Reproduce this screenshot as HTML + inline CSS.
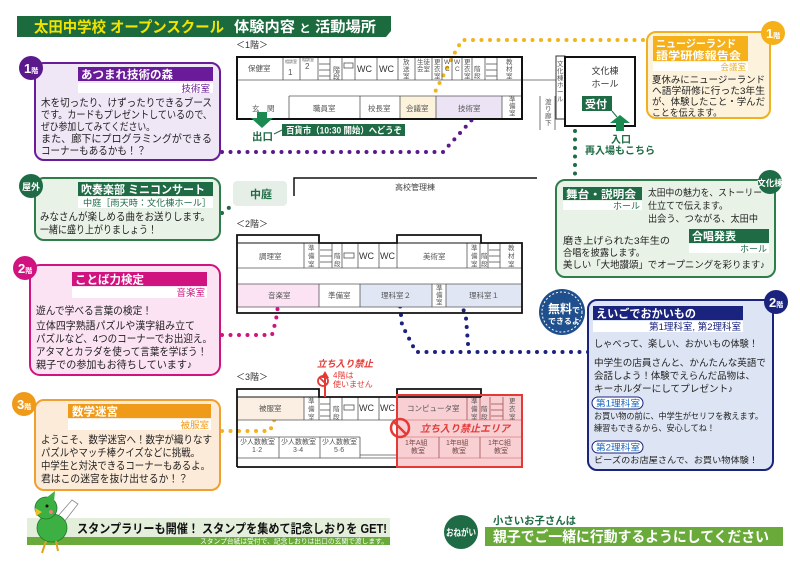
<!DOCTYPE html>
<html><head><meta charset="utf-8">
<style>
html,body{margin:0;padding:0;background:#fff;}
svg{display:block;}
text{font-family:"Liberation Sans","Noto Sans CJK JP",sans-serif;}
.b{font-weight:bold;}
.rm{font-size:7.5px;fill:#555;}
.bd{font-size:10.5px;fill:#222;}
.sm{font-size:9.5px;fill:#222;}
.wc{font-size:9px;fill:#333;}
</style></head>
<body>
<svg width="800" height="566" viewBox="0 0 800 566" xmlns="http://www.w3.org/2000/svg">
<rect width="800" height="566" fill="#fff"/>

<!-- Title -->
<path d="M17,16 L391,16 L391,31 L386,37 L17,37 Z" fill="#1b6b3e"/>
<text x="34" y="32" font-size="15" class="b" fill="#f2e400" textLength="190" lengthAdjust="spacingAndGlyphs">太田中学校 オープンスクール</text>
<text x="234" y="32" font-size="14.5" class="b" fill="#fff" textLength="142" lengthAdjust="spacingAndGlyphs">体験内容 <tspan font-size="11">と</tspan> 活動場所</text>

<!-- Dotted connectors -->
<g fill="none" stroke-linecap="round" stroke-width="4" stroke-dasharray="0 8.5">
<polyline points="222,152 443,152 478,113" stroke="#5b1a8c"/>
<polyline points="643,40 462,40 453,56 432,98" stroke="#f0b41c"/>
<polyline points="575,80 575,180" stroke="#1e6b45"/>
<polyline points="222,213 242,198" stroke="#1e6b45"/>
<polyline points="222,335 272,335 276,320 279,298" stroke="#d0137f"/>
<polyline points="588,352 416,352 402,325 400,305" stroke="#1a237e"/>
<polyline points="468,344 466,318 461,302" stroke="#1a237e"/>
<polyline points="222,431 270,431 275,418 275,408" stroke="#f0b41c"/>
</g>

<!-- Box 1: purple -->
<rect x="35" y="63" width="185" height="97" rx="9" fill="#efe6f6" stroke="#6a1b9a" stroke-width="2"/>
<rect x="78" y="67" width="135" height="14" fill="#6a1b9a"/>
<text x="81" y="78.5" font-size="11.5" class="b" fill="#fff" textLength="92" lengthAdjust="spacingAndGlyphs">あつまれ技術の森</text>
<rect x="78" y="83" width="135" height="10" fill="#fff"/>
<text x="210" y="92" font-size="9.5" fill="#6a1b9a" text-anchor="end">技術室</text>
<text class="bd" x="41" y="106" textLength="171" lengthAdjust="spacingAndGlyphs">木を切ったり、けずったりできるブース</text>
<text class="bd" x="41" y="118" textLength="171" lengthAdjust="spacingAndGlyphs">です。カードもプレゼントしているので、</text>
<text class="bd" x="41" y="130" textLength="114" lengthAdjust="spacingAndGlyphs">ぜひ参加してみてください。</text>
<text class="bd" x="41" y="142" textLength="171" lengthAdjust="spacingAndGlyphs">また、廊下にプログラミングができる</text>
<text class="bd" x="41" y="154" textLength="105" lengthAdjust="spacingAndGlyphs">コーナーもあるかも！？</text>
<circle cx="31" cy="68" r="12" fill="#5b1a8c"/>
<text x="24" y="73" font-size="13" class="b" fill="#fff">1<tspan font-size="7">階</tspan></text>

<!-- Box 屋外 -->
<rect x="35" y="178" width="185" height="62" rx="9" fill="#e9f2e6" stroke="#2e7d4a" stroke-width="2"/>
<rect x="78" y="182" width="135" height="14" fill="#1e6b45"/>
<text x="81" y="193.5" font-size="11.5" class="b" fill="#fff" textLength="124" lengthAdjust="spacingAndGlyphs">吹奏楽部 ミニコンサート</text>
<rect x="78" y="197" width="135" height="11" fill="#fff"/>
<text x="83" y="206" font-size="9" fill="#1e6b45" textLength="128" lengthAdjust="spacingAndGlyphs">中庭［雨天時：文化棟ホール］</text>
<text class="bd" x="40" y="220" textLength="170" lengthAdjust="spacingAndGlyphs">みなさんが楽しめる曲をお送りします。</text>
<text class="bd" x="40" y="233" textLength="117" lengthAdjust="spacingAndGlyphs">一緒に盛り上がりましょう！</text>
<circle cx="31" cy="186" r="12" fill="#1e6b45"/>
<text x="31" y="190" font-size="9" class="b" fill="#fff" text-anchor="middle">屋外</text>

<!-- 中庭 label -->
<rect x="233" y="181" width="54" height="25" rx="4" fill="#e6eee8"/>
<text x="250" y="198" font-size="11" class="b" fill="#1e6b45">中庭</text>

<!-- Box 2階 pink -->
<rect x="30" y="265" width="190" height="110" rx="10" fill="#fbe3f3" stroke="#d0137f" stroke-width="2"/>
<rect x="72" y="272" width="135" height="14" fill="#d0137f"/>
<text x="75" y="283.5" font-size="11.5" class="b" fill="#fff">ことば力検定</text>
<rect x="72" y="287" width="135" height="11" fill="#fff"/>
<text x="205" y="296" font-size="9.5" fill="#d0137f" text-anchor="end">音楽室</text>
<text class="bd" x="36" y="314" textLength="116" lengthAdjust="spacingAndGlyphs">遊んで学べる言葉の検定！</text>
<text class="bd" x="36" y="329" textLength="159" lengthAdjust="spacingAndGlyphs">立体四字熟語パズルや漢字組み立て</text>
<text class="bd" x="36" y="342" textLength="176" lengthAdjust="spacingAndGlyphs">パズルなど、4つのコーナーでお出迎え。</text>
<text class="bd" x="36" y="355" textLength="171" lengthAdjust="spacingAndGlyphs">アタマとカラダを使って言葉を学ぼう！</text>
<text class="bd" x="36" y="368" textLength="156" lengthAdjust="spacingAndGlyphs">親子での参加もお待ちしています♪</text>
<circle cx="25" cy="268" r="12" fill="#d0137f"/>
<text x="18" y="273" font-size="13" class="b" fill="#fff">2<tspan font-size="7">階</tspan></text>

<!-- Box 3階 orange -->
<rect x="35" y="400" width="185" height="90" rx="9" fill="#fdebd9" stroke="#f0a030" stroke-width="2"/>
<rect x="68" y="404" width="143" height="14" fill="#f09a1a"/>
<text x="72" y="415.5" font-size="11.5" class="b" fill="#fff">数学迷宮</text>
<rect x="68" y="419" width="143" height="11" fill="#fff"/>
<text x="209" y="428.5" font-size="9.5" fill="#f09a1a" text-anchor="end">被服室</text>
<text class="bd" x="41" y="443" textLength="171" lengthAdjust="spacingAndGlyphs">ようこそ、数学迷宮へ！数字が織りなす</text>
<text class="bd" x="41" y="456" textLength="159" lengthAdjust="spacingAndGlyphs">パズルやマッチ棒クイズなどに挑戦。</text>
<text class="bd" x="41" y="469" textLength="169" lengthAdjust="spacingAndGlyphs">中学生と対決できるコーナーもあるよ。</text>
<text class="bd" x="41" y="482" textLength="147" lengthAdjust="spacingAndGlyphs">君はこの迷宮を抜け出せるか！？</text>
<circle cx="24" cy="404" r="12" fill="#f09a1a"/>
<text x="17" y="409" font-size="13" class="b" fill="#fff">3<tspan font-size="7">階</tspan></text>

<!-- Right: Newzealand -->
<rect x="647" y="32" width="123" height="86" rx="9" fill="#fdf3dd" stroke="#f0b020" stroke-width="2"/>
<rect x="653" y="36" width="95" height="25" fill="#f5b01a"/>
<text x="656" y="47" font-size="10.5" class="b" fill="#fff" textLength="80" lengthAdjust="spacingAndGlyphs">ニュージーランド</text>
<text x="656" y="59" font-size="10.5" class="b" fill="#fff" textLength="85" lengthAdjust="spacingAndGlyphs">語学研修報告会</text>
<rect x="653" y="62" width="95" height="9" fill="#fff"/>
<text x="746" y="70" font-size="8.5" fill="#f0b020" text-anchor="end">会議室</text>
<text class="sm" x="652" y="83" textLength="113" lengthAdjust="spacingAndGlyphs">夏休みにニュージーランド</text>
<text class="sm" x="652" y="94" textLength="113" lengthAdjust="spacingAndGlyphs">へ語学研修に行った3年生</text>
<text class="sm" x="652" y="105" textLength="113" lengthAdjust="spacingAndGlyphs">が、体験したこと・学んだ</text>
<text class="sm" x="652" y="116" textLength="70" lengthAdjust="spacingAndGlyphs">ことを伝えます。</text>
<circle cx="773" cy="33" r="12" fill="#f5b01a"/>
<text x="766" y="38" font-size="13" class="b" fill="#fff">1<tspan font-size="7">階</tspan></text>

<!-- Right: 文化棟 -->
<rect x="556" y="180" width="219" height="97" rx="9" fill="#e9f2e6" stroke="#2e7d4a" stroke-width="2"/>
<rect x="563" y="187" width="79" height="13" fill="#1e6b45"/>
<text x="566" y="198" font-size="11" class="b" fill="#fff" textLength="70" lengthAdjust="spacingAndGlyphs">舞台・説明会</text>
<rect x="563" y="201" width="79" height="9" fill="#fff"/>
<text x="640" y="209" font-size="9" fill="#1e6b45" text-anchor="end">ホール</text>
<text class="sm" x="648" y="196" textLength="114" lengthAdjust="spacingAndGlyphs">太田中の魅力を、ストーリー</text>
<text class="sm" x="648" y="209" textLength="80" lengthAdjust="spacingAndGlyphs">仕立てで伝えます。</text>
<text class="sm" x="648" y="222" textLength="110" lengthAdjust="spacingAndGlyphs">出会う、つながる、太田中</text>
<rect x="689" y="229" width="80" height="14" fill="#1e6b45"/>
<text x="692" y="240" font-size="11" class="b" fill="#fff">合唱発表</text>
<rect x="689" y="244" width="80" height="9" fill="#fff"/>
<text x="767" y="252" font-size="9" fill="#1e6b45" text-anchor="end">ホール</text>
<text class="sm" x="563" y="244" textLength="107" lengthAdjust="spacingAndGlyphs">磨き上げられた3年生の</text>
<text class="sm" x="563" y="256" textLength="82" lengthAdjust="spacingAndGlyphs">合唱を披露します。</text>
<text class="sm" x="563" y="268" textLength="202" lengthAdjust="spacingAndGlyphs">美しい「大地讃頌」でオープニングを彩ります♪</text>
<circle cx="770" cy="182" r="12" fill="#1e6b45"/>
<text x="770" y="186" font-size="8.5" class="b" fill="#fff" text-anchor="middle">文化棟</text>

<!-- Right: 2階 blue -->
<rect x="588" y="300" width="185" height="170" rx="9" fill="#dde4f3" stroke="#1a237e" stroke-width="2"/>
<rect x="593" y="306" width="150" height="14" fill="#1a237e"/>
<text x="596" y="317.5" font-size="11.5" class="b" fill="#fff" textLength="100" lengthAdjust="spacingAndGlyphs">えいごでおかいもの</text>
<rect x="593" y="321" width="150" height="11" fill="#fff"/>
<text x="741" y="330" font-size="9.5" fill="#1a237e" text-anchor="end">第1理科室, 第2理科室</text>
<text class="sm" x="594" y="347" textLength="164" lengthAdjust="spacingAndGlyphs">しゃべって、楽しい、おかいもの体験！</text>
<text class="sm" x="594" y="366" textLength="172" lengthAdjust="spacingAndGlyphs">中学生の店員さんと、かんたんな英語で</text>
<text class="sm" x="594" y="379" textLength="161" lengthAdjust="spacingAndGlyphs">会話しよう！体験でえらんだ品物は、</text>
<text class="sm" x="594" y="392" textLength="139" lengthAdjust="spacingAndGlyphs">キーホルダーにしてプレゼント♪</text>
<rect x="592" y="397" width="51" height="12" rx="6" fill="#fff" stroke="#1a237e" stroke-width="1"/>
<text x="596" y="406.5" font-size="9" fill="#1565c0" textLength="44" lengthAdjust="spacingAndGlyphs">第1理科室</text>
<text x="594" y="419" font-size="8.5" fill="#222" textLength="169" lengthAdjust="spacingAndGlyphs">お買い物の前に、中学生がセリフを教えます。</text>
<text x="594" y="431" font-size="8.5" fill="#222" textLength="121" lengthAdjust="spacingAndGlyphs">練習もできるから、安心してね！</text>
<rect x="592" y="441" width="51" height="12" rx="6" fill="#fff" stroke="#1a237e" stroke-width="1"/>
<text x="596" y="450.5" font-size="9" fill="#1565c0" textLength="44" lengthAdjust="spacingAndGlyphs">第2理科室</text>
<text x="594" y="463" font-size="8.5" fill="#222" textLength="164" lengthAdjust="spacingAndGlyphs">ビーズのお店屋さんで、お買い物体験！</text>
<circle cx="776" cy="302" r="12" fill="#1a237e"/>
<text x="769" y="307" font-size="13" class="b" fill="#fff">2<tspan font-size="7">階</tspan></text>
<!-- 無料 badge -->
<circle cx="562" cy="312" r="23" fill="#1f4f8c"/>
<circle cx="562" cy="312" r="20" fill="none" stroke="#fff" stroke-width="1" stroke-dasharray="2 2"/>
<text x="548" y="313" font-size="12" class="b" fill="#fff">無料<tspan font-size="8">で</tspan></text>
<text x="548" y="324" font-size="8" class="b" fill="#fff">できるよ</text>

<!-- 1階 floor plan -->
<text x="236" y="48" font-size="9" fill="#333">＜1階＞</text>
<g fill="none" stroke="#555" stroke-width="0.8">
<rect x="400" y="96" width="36" height="23" fill="#fdf3dd" stroke="none"/>
<rect x="436" y="96" width="66" height="23" fill="#ece4f5" stroke="none"/>
<line x1="237" y1="80" x2="522" y2="80"/>
<line x1="283" y1="57" x2="283" y2="80"/><line x1="300" y1="57" x2="300" y2="80"/><line x1="318" y1="57" x2="318" y2="80"/>
<line x1="330" y1="57" x2="330" y2="80"/><line x1="342" y1="57" x2="342" y2="80"/><line x1="355" y1="57" x2="355" y2="80"/>
<line x1="377" y1="57" x2="377" y2="80"/><line x1="398" y1="57" x2="398" y2="80"/><line x1="415" y1="57" x2="415" y2="80"/>
<line x1="432" y1="57" x2="432" y2="80"/><line x1="442" y1="57" x2="442" y2="80"/><line x1="452" y1="57" x2="452" y2="80"/>
<line x1="462" y1="57" x2="462" y2="80"/><line x1="472" y1="57" x2="472" y2="80"/><line x1="485" y1="57" x2="485" y2="80"/><line x1="497" y1="57" x2="497" y2="80"/>
<line x1="319" y1="64" x2="330" y2="64"/><line x1="319" y1="70" x2="330" y2="70"/><line x1="319" y1="76" x2="330" y2="76"/>
<line x1="486" y1="64" x2="497" y2="64"/><line x1="486" y1="70" x2="497" y2="70"/><line x1="486" y1="76" x2="497" y2="76"/>
<rect x="344" y="63" width="9" height="5"/>
<line x1="289" y1="96" x2="522" y2="96"/><line x1="289" y1="96" x2="289" y2="119"/>
<line x1="360" y1="96" x2="360" y2="119"/><line x1="400" y1="96" x2="400" y2="119"/><line x1="436" y1="96" x2="436" y2="119"/><line x1="502" y1="96" x2="502" y2="119"/>
<line x1="522" y1="80" x2="556" y2="80"/>
<line x1="540" y1="96" x2="540" y2="130"/><line x1="555" y1="96" x2="555" y2="130"/>
</g>
<rect x="237" y="57" width="285" height="62" fill="none" stroke="#111" stroke-width="2"/>
<text class="rm"><tspan x="248" y="71">保健室</tspan><tspan x="333" y="72" font-size="7">階</tspan><tspan x="333" y="79" font-size="7">段</tspan></text>
<text font-size="4" fill="#555" x="285" y="63">相談室</text><text font-size="8" fill="#555" x="288" y="75">1</text>
<text font-size="4" fill="#555" x="302" y="61">相談室</text><text font-size="8" fill="#555" x="305" y="69">2</text>
<text class="wc" x="357" y="72">WC</text><text class="wc" x="379" y="72">WC</text>
<text font-size="6.5" fill="#555"><tspan x="403" y="64">放</tspan><tspan x="403" y="71">送</tspan><tspan x="403" y="78">室</tspan><tspan x="417" y="64">生徒</tspan><tspan x="417" y="71">会室</tspan><tspan x="434" y="64">更</tspan><tspan x="434" y="71">衣</tspan><tspan x="434" y="78">室</tspan><tspan x="444" y="64">W</tspan><tspan x="445" y="71">C</tspan><tspan x="454" y="64">W</tspan><tspan x="455" y="71">C</tspan><tspan x="464" y="64">更</tspan><tspan x="464" y="71">衣</tspan><tspan x="464" y="78">室</tspan><tspan x="474" y="71">階</tspan><tspan x="474" y="78">段</tspan><tspan x="506" y="64">教</tspan><tspan x="506" y="71">材</tspan><tspan x="506" y="78">室</tspan>
<tspan x="509" y="101">準</tspan><tspan x="509" y="108">備</tspan><tspan x="509" y="115">室</tspan><tspan x="545" y="104">渡</tspan><tspan x="545" y="111">り</tspan><tspan x="545" y="118">廊</tspan><tspan x="545" y="125">下</tspan><tspan x="557" y="66">文</tspan><tspan x="557" y="73">化</tspan><tspan x="557" y="80">棟</tspan><tspan x="557" y="87">ホ</tspan><tspan x="557" y="94">ー</tspan><tspan x="557" y="101">ル</tspan></text>
<text class="rm"><tspan x="252" y="111">玄　関</tspan><tspan x="313" y="111">職員室</tspan><tspan x="368" y="111">校長室</tspan><tspan x="406" y="111">会議室</tspan><tspan x="458" y="111">技術室</tspan></text>
<!-- 文化棟 -->
<rect x="556" y="56" width="9" height="63" fill="none" stroke="#333" stroke-width="1"/>
<rect x="565" y="57" width="70" height="69" fill="#fff" stroke="#111" stroke-width="2"/>
<text x="605" y="74" font-size="9" fill="#333" text-anchor="middle">文化棟</text>
<text x="605" y="87" font-size="9" fill="#333" text-anchor="middle">ホール</text>
<rect x="582" y="96" width="30" height="15" fill="#1e6b45"/>
<text x="585" y="108" font-size="11" class="b" fill="#fff">受付</text>
<path d="M612,111 L617,117" stroke="#1e6b45" stroke-width="1" fill="none"/>
<path d="M620,115 L630,123 L624,123 L624,131 L616,131 L616,123 L610,123 Z" fill="#1a8a50"/>
<text x="611" y="143" font-size="10" class="b" fill="#1e6b45">入口</text>
<text x="585" y="154" font-size="10" class="b" fill="#1e6b45" textLength="70" lengthAdjust="spacingAndGlyphs">再入場もこちら</text>
<!-- exit -->
<path d="M257,112 L267,112 L267,118 L273,118 L262,128 L251,118 L257,118 Z" fill="#1a8a50"/>
<text x="252" y="140" font-size="10.5" class="b" fill="#1e6b45">出口</text>
<line x1="274" y1="134" x2="282" y2="130" stroke="#1e6b45" stroke-width="1"/>
<rect x="282" y="124" width="123" height="12" fill="#1e6b45"/>
<text x="286" y="133.5" font-size="9" class="b" fill="#fff" textLength="116" lengthAdjust="spacingAndGlyphs">百貨市（10:30 開始）へどうぞ</text>

<!-- 高校管理棟 -->
<path d="M294,196 L294,178 L537,178" fill="none" stroke="#111" stroke-width="1.5"/>
<text x="395" y="190" font-size="8" fill="#444">高校管理棟</text>

<!-- 2階 floor plan -->
<text x="236" y="227" font-size="9" fill="#333">＜2階＞</text>
<rect x="237" y="284" width="82" height="23" fill="#fbe3f3"/>
<rect x="360" y="284" width="72" height="23" fill="#e1e6f5"/>
<rect x="446" y="284" width="76" height="23" fill="#e1e6f5"/>
<g fill="none" stroke="#555" stroke-width="0.8">
<line x1="237" y1="268" x2="522" y2="268"/><line x1="237" y1="284" x2="522" y2="284"/><line x1="237" y1="307" x2="522" y2="307"/>
<line x1="304" y1="243" x2="304" y2="268"/><line x1="319" y1="243" x2="319" y2="268"/><line x1="332" y1="243" x2="332" y2="268"/><line x1="342" y1="243" x2="342" y2="268"/><line x1="358" y1="243" x2="358" y2="268"/><line x1="379" y1="243" x2="379" y2="268"/><line x1="397" y1="243" x2="397" y2="268"/><line x1="467" y1="243" x2="467" y2="268"/><line x1="480" y1="243" x2="480" y2="268"/><line x1="488" y1="243" x2="488" y2="268"/><line x1="500" y1="243" x2="500" y2="268"/>
<line x1="320" y1="250" x2="332" y2="250"/><line x1="320" y1="256" x2="332" y2="256"/><line x1="320" y1="262" x2="332" y2="262"/>
<line x1="489" y1="250" x2="500" y2="250"/><line x1="489" y1="256" x2="500" y2="256"/><line x1="489" y1="262" x2="500" y2="262"/>
<rect x="344" y="253" width="10" height="5"/>
<line x1="319" y1="284" x2="319" y2="307"/><line x1="360" y1="284" x2="360" y2="307"/><line x1="432" y1="284" x2="432" y2="307"/><line x1="446" y1="284" x2="446" y2="307"/>
</g>
<path d="M237,313 L237,235 L319,235 L319,243 L397,243 L397,235 L481,235 L481,243 L522,243 L522,313 Z" fill="none" stroke="#111" stroke-width="1.8"/>
<line x1="237" y1="243" x2="319" y2="243" stroke="#111" stroke-width="1"/>
<line x1="397" y1="243" x2="481" y2="243" stroke="#111" stroke-width="1"/>
<text class="rm"><tspan x="259" y="259">調理室</tspan><tspan x="423" y="259">美術室</tspan><tspan x="268" y="298">音楽室</tspan><tspan x="328" y="298">準備室</tspan><tspan x="381" y="298">理科室２</tspan><tspan x="469" y="298">理科室１</tspan></text>
<text class="wc" x="359" y="259">WC</text><text class="wc" x="380" y="259">WC</text>
<text font-size="6.5" fill="#555"><tspan x="308" y="250">準</tspan><tspan x="308" y="258">備</tspan><tspan x="308" y="266">室</tspan><tspan x="334" y="258">階</tspan><tspan x="334" y="266">段</tspan><tspan x="471" y="250">準</tspan><tspan x="471" y="258">備</tspan><tspan x="471" y="266">室</tspan><tspan x="481" y="258">階</tspan><tspan x="481" y="266">段</tspan><tspan x="508" y="250">教</tspan><tspan x="508" y="258">材</tspan><tspan x="508" y="266">室</tspan><tspan x="436" y="290">準</tspan><tspan x="436" y="297">備</tspan><tspan x="436" y="304">室</tspan></text>

<!-- 3階 floor plan -->
<text x="236" y="380" font-size="9" fill="#333">＜3階＞</text>
<rect x="237" y="397" width="67" height="23" fill="#fbeee2"/>
<rect x="397" y="395" width="125" height="72" fill="#f8d0d4" stroke="#e53935" stroke-width="2"/>
<g fill="none" stroke="#555" stroke-width="0.8">
<line x1="237" y1="420" x2="397" y2="420"/><line x1="397" y1="420" x2="522" y2="420" stroke="#d98080"/>
<line x1="237" y1="437" x2="360" y2="437"/><line x1="360" y1="455" x2="397" y2="455"/>
<line x1="397" y1="437" x2="522" y2="437" stroke="#d98080"/><line x1="397" y1="458" x2="522" y2="458" stroke="#d98080"/>
<line x1="237" y1="458" x2="397" y2="458"/>
<line x1="304" y1="397" x2="304" y2="420"/><line x1="319" y1="397" x2="319" y2="420"/><line x1="330" y1="397" x2="330" y2="420"/><line x1="342" y1="397" x2="342" y2="420"/><line x1="358" y1="397" x2="358" y2="420"/><line x1="379" y1="397" x2="379" y2="420"/>
<line x1="320" y1="404" x2="330" y2="404"/><line x1="320" y1="410" x2="330" y2="410"/><line x1="320" y1="416" x2="330" y2="416"/>
<rect x="344" y="405" width="10" height="5"/>
<line x1="279" y1="437" x2="279" y2="458"/><line x1="320" y1="437" x2="320" y2="458"/><line x1="360" y1="437" x2="360" y2="458"/>
<g stroke="#a05050"><line x1="467" y1="397" x2="467" y2="420"/><line x1="480" y1="397" x2="480" y2="420"/><line x1="490" y1="397" x2="490" y2="420"/><line x1="503" y1="397" x2="503" y2="420"/>
<line x1="491" y1="404" x2="503" y2="404"/><line x1="491" y1="410" x2="503" y2="410"/><line x1="491" y1="416" x2="503" y2="416"/>
<line x1="439" y1="437" x2="439" y2="458"/><line x1="480" y1="437" x2="480" y2="458"/></g>
</g>
<path d="M237,467 L237,389 L319,389 L319,397 L397,397 M481,397 L397,397 L397,389 L481,389 L481,397" fill="none" stroke="#111" stroke-width="1.8"/>
<path d="M237,467 L397,467" stroke="#111" stroke-width="1.8"/>
<line x1="237" y1="397" x2="319" y2="397" stroke="#111" stroke-width="1"/>
<rect x="397" y="395" width="125" height="72" fill="none" stroke="#e53935" stroke-width="2"/>
<text class="rm"><tspan x="259" y="411">被服室</tspan><tspan x="407" y="411">コンピュータ室</tspan></text>
<text class="wc" x="359" y="411">WC</text><text class="wc" x="380" y="411">WC</text>
<text font-size="6.5" fill="#555"><tspan x="308" y="403">準</tspan><tspan x="308" y="411">備</tspan><tspan x="308" y="419">室</tspan><tspan x="333" y="411">階</tspan><tspan x="333" y="419">段</tspan><tspan x="471" y="403">準</tspan><tspan x="471" y="411">備</tspan><tspan x="471" y="419">室</tspan><tspan x="481" y="411">階</tspan><tspan x="481" y="419">段</tspan><tspan x="509" y="403">更</tspan><tspan x="509" y="411">衣</tspan><tspan x="509" y="419">室</tspan></text>
<text font-size="7" fill="#555"><tspan x="240" y="444">少人数教室</tspan><tspan x="252" y="452">1·2</tspan><tspan x="281" y="444">少人数教室</tspan><tspan x="293" y="452">3·4</tspan><tspan x="322" y="444">少人数教室</tspan><tspan x="334" y="452">5·6</tspan></text>
<text font-size="7" fill="#7a4a4a"><tspan x="405" y="445">1年A組</tspan><tspan x="411" y="453">教室</tspan><tspan x="446" y="445">1年B組</tspan><tspan x="452" y="453">教室</tspan><tspan x="488" y="445">1年C組</tspan><tspan x="494" y="453">教室</tspan></text>
<circle cx="400" cy="428" r="9" fill="none" stroke="#e53935" stroke-width="2.5"/>
<line x1="394" y1="422" x2="406" y2="434" stroke="#e53935" stroke-width="2.5"/>
<text x="420" y="432" font-size="10" class="b" fill="#e53935" font-style="italic" textLength="90" lengthAdjust="spacingAndGlyphs">立ち入り禁止エリア</text>
<!-- 4F notice -->
<line x1="325" y1="397" x2="325" y2="376" stroke="#e53935" stroke-width="2"/>
<path d="M321,378 L325,371 L329,378 Z" fill="#e53935"/>
<text x="317" y="367" font-size="9.5" class="b" fill="#e53935" font-style="italic" textLength="56" lengthAdjust="spacingAndGlyphs">立ち入り禁止</text>
<circle cx="323" cy="381" r="5" fill="none" stroke="#e53935" stroke-width="1.8"/>
<line x1="320" y1="378" x2="326" y2="384" stroke="#e53935" stroke-width="1.8"/>
<text font-size="8" fill="#e53935"><tspan x="333" y="378">4階は</tspan><tspan x="333" y="387">使いません</tspan></text>

<!-- Bottom stamp rally -->
<rect x="27" y="518" width="363" height="19" fill="#e4efdb"/>
<rect x="27" y="537" width="363" height="8" fill="#6aaa3a"/>
<text x="77" y="533" font-size="12.5" class="b" fill="#111" textLength="310" lengthAdjust="spacingAndGlyphs">スタンプラリーも開催！ スタンプを集めて記念しおりを GET!</text>
<text x="200" y="543.5" font-size="7" fill="#fff" textLength="188" lengthAdjust="spacingAndGlyphs">スタンプ台紙は受付で、記念しおりは出口の玄関で渡します。</text>
<!-- bird -->
<g>
<path d="M58,516 L72,500 L78,504 L64,522 Z" fill="#fff" stroke="#888" stroke-width="0.8"/>
<ellipse cx="52" cy="528" rx="15" ry="14" fill="#3cb043" stroke="#1e7a28" stroke-width="0.8"/>
<ellipse cx="46" cy="508" rx="11" ry="11" fill="#3cb043" stroke="#1e7a28" stroke-width="0.8"/>
<path d="M46,498 L55,491 L54,502 Z" fill="#3cb043"/>
<path d="M35,508 L42,512 L36,516 Z" fill="#f0c020"/>
<circle cx="47" cy="506" r="1.5" fill="#111"/>
<circle cx="51" cy="512" r="2" fill="#f08080"/>
<line x1="46" y1="541" x2="42" y2="553" stroke="#e0a020" stroke-width="2"/>
<line x1="56" y1="541" x2="58" y2="551" stroke="#e0a020" stroke-width="2"/>
</g>

<!-- おねがい -->
<circle cx="461" cy="532" r="17" fill="#1e6b45"/>
<text x="461" y="536" font-size="9.5" class="b" fill="#fff" text-anchor="middle" textLength="30" lengthAdjust="spacingAndGlyphs">おねがい</text>
<text x="493" y="524" font-size="10.5" class="b" fill="#1e6b45" textLength="83" lengthAdjust="spacingAndGlyphs">小さいお子さんは</text>
<rect x="485" y="527" width="298" height="19" fill="#6aaa3a"/>
<text x="493" y="542" font-size="14.5" class="b" fill="#fff" textLength="276" lengthAdjust="spacingAndGlyphs">親子でご一緒に行動するようにしてください</text>
</svg>
</body></html>
